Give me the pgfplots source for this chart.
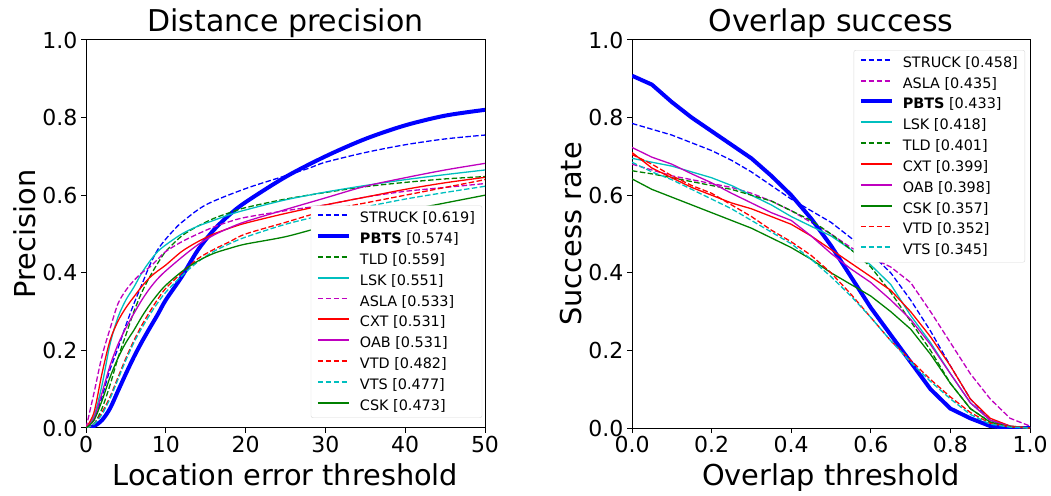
\documentclass[border=0pt]{standalone}
\usepackage{fontspec}
\setmainfont{DejaVu Sans}
\usepackage{pgfplots}
\pgfplotsset{compat=1.18}

\definecolor{mplb}{rgb}{0,0,1}
\definecolor{mplg}{rgb}{0,0.5,0}
\definecolor{mplc}{rgb}{0,0.75,0.75}
\definecolor{mplm}{rgb}{0.75,0,0.75}
\definecolor{mplr}{rgb}{1,0,0}

\pgfplotsset{
  thin trk/.style={line width=1.3pt, legend image post style={line width=1.8pt}},
  dsh/.style={dash pattern=on 5.5pt off 2.4pt},
  panel/.style={
    scale only axis, width=399pt, height=388pt,
    axis line style={line width=1pt},
    tick align=outside, xtick pos=bottom, ytick pos=left,
    major tick length=5pt, tick style={black, line width=1pt},
    ymin=0, ymax=1, ytick={0,0.2,0.4,0.6,0.8,1.0},
    yticklabel style={/pgf/number format/.cd, fixed, fixed zerofill, precision=1},
    /pgf/number format/assume math mode=true,
    tick label style={font=\fontsize{22}{22}\selectfont},
    label style={font=\fontsize{28.8}{28.8}\selectfont},
    xlabel style={yshift=-4pt},
    title style={font=\fontsize{30}{30}\selectfont, yshift=-7pt},
    legend cell align=left,
    legend style={font=\fontsize{14.4}{14.4}\selectfont, draw=black!15, rounded corners=2pt,
      row sep=4.4pt, column sep=7pt, inner xsep=5pt, inner ysep=4pt},
    legend image code/.code={%
      \colorlet{legcol}{pgfstrokecolor}%
      \draw[draw=legcol, #1, line cap=butt] (0pt,0.5ex) -- (31pt,0.5ex);},
  }
}

\begin{document}
\begin{tikzpicture}
\path[use as bounding box] (0,0) rectangle (1051pt,495pt);

% ---------------- distance precision ----------------
\begin{axis}[panel, at={(86pt,67pt)}, anchor=south west,
  xmin=0, xmax=50, xtick={0,10,20,30,40,50},
  title={Distance precision}, xlabel={Location error threshold}, ylabel={Precision},
  legend style={at={(0.993,0.026)}, anchor=south east}]
\addplot[draw=mplb, thin trk, dsh, smooth] coordinates {
 (0,0) (1,0.02) (2,0.08) (3,0.15) (4,0.205) (5,0.265) (6,0.32) (7,0.37) (8,0.42) (9,0.46) (10,0.487)
 (11,0.51) (12,0.53) (15,0.575) (20,0.617) (25,0.65) (28,0.67) (30,0.685) (35,0.71) (40,0.73) (45,0.745) (50,0.755)};
\addlegendentry{STRUCK [0.619]}
\addplot[draw=mplb, line width=4pt, smooth] coordinates {
 (0,0) (1,0.005) (2,0.02) (3,0.05) (4,0.095) (5,0.14) (6,0.183) (7,0.222) (8,0.258) (9,0.293) (10,0.33)
 (12,0.39) (14,0.458) (16,0.51) (18,0.55) (20,0.582) (25,0.647) (30,0.7) (35,0.745) (40,0.78) (45,0.805) (50,0.82)};
\addlegendentry{\textbf{PBTS} [0.574]}
\addplot[draw=mplg, thin trk, dsh, smooth] coordinates {
 (0,0) (1,0.01) (2,0.05) (3,0.11) (4,0.18) (5,0.24) (6,0.3) (7,0.35) (8,0.39) (9,0.425) (10,0.455)
 (12,0.495) (14,0.52) (16,0.54) (18,0.555) (20,0.568) (25,0.59) (30,0.607) (35,0.622) (40,0.633) (45,0.642) (50,0.648)};
\addlegendentry{TLD [0.559]}
\addplot[draw=mplc, thin trk, smooth] coordinates {
 (0,0) (1,0.03) (2,0.11) (3,0.215) (4,0.285) (5,0.33) (6,0.363) (7,0.4) (8,0.43) (9,0.455) (10,0.472)
 (12,0.5) (14,0.52) (16,0.535) (18,0.55) (20,0.562) (25,0.588) (30,0.608) (35,0.625) (40,0.64) (45,0.653) (50,0.665)};
\addlegendentry{LSK [0.551]}
\addplot[draw=mplm, thin trk, dsh, smooth] coordinates {
 (0,0) (1,0.09) (2,0.185) (3,0.255) (4,0.32) (5,0.355) (6,0.38) (7,0.4) (8,0.415) (9,0.435) (10,0.455)
 (12,0.48) (14,0.5) (16,0.518) (18,0.532) (20,0.543) (25,0.56) (30,0.575) (35,0.595) (40,0.61) (45,0.62) (50,0.63)};
\addlegendentry{ASLA [0.533]}
\addplot[draw=mplr, thin trk, smooth] coordinates {
 (0,0) (1,0.04) (2,0.14) (3,0.225) (4,0.275) (5,0.31) (6,0.338) (7,0.365) (8,0.388) (9,0.405) (10,0.42)
 (12,0.455) (14,0.48) (16,0.5) (18,0.515) (20,0.528) (25,0.553) (30,0.575) (35,0.595) (40,0.615) (45,0.632) (50,0.646)};
\addlegendentry{CXT [0.531]}
\addplot[draw=mplm, thin trk, smooth] coordinates {
 (0,0) (1,0.025) (2,0.09) (3,0.16) (4,0.215) (5,0.258) (6,0.295) (7,0.33) (8,0.36) (9,0.385) (10,0.405)
 (12,0.44) (14,0.472) (16,0.497) (18,0.516) (20,0.532) (25,0.563) (30,0.593) (35,0.623) (40,0.645) (45,0.665) (50,0.682)};
\addlegendentry{OAB [0.531]}
\addplot[draw=mplr, thin trk, dsh, smooth] coordinates {
 (0,0) (1,0.01) (2,0.04) (3,0.08) (4,0.13) (5,0.18) (6,0.225) (7,0.265) (8,0.3) (9,0.332) (10,0.36)
 (12,0.4) (14,0.436) (16,0.46) (18,0.48) (20,0.5) (25,0.53) (30,0.56) (35,0.58) (40,0.6) (45,0.62) (50,0.64)};
\addlegendentry{VTD [0.482]}
\addplot[draw=mplc, thin trk, dsh, smooth] coordinates {
 (0,0) (1,0.01) (2,0.035) (3,0.075) (4,0.125) (5,0.175) (6,0.22) (7,0.258) (8,0.292) (9,0.323) (10,0.35)
 (12,0.392) (14,0.428) (16,0.455) (18,0.475) (20,0.492) (25,0.525) (30,0.55) (35,0.57) (40,0.59) (45,0.607) (50,0.623)};
\addlegendentry{VTS [0.477]}
\addplot[draw=mplg, thin trk, smooth] coordinates {
 (0,0) (1,0.02) (2,0.07) (3,0.13) (4,0.18) (5,0.22) (6,0.252) (7,0.287) (8,0.318) (9,0.345) (10,0.368)
 (12,0.403) (14,0.43) (16,0.45) (18,0.463) (20,0.474) (25,0.493) (30,0.52) (35,0.54) (40,0.56) (45,0.58) (50,0.6)};
\addlegendentry{CSK [0.473]}
\end{axis}

% ---------------- overlap success ----------------
\begin{axis}[panel, width=398pt, at={(632pt,67pt)}, anchor=south west,
  xmin=0, xmax=1, xtick={0,0.2,0.4,0.6,0.8,1.0},
  xticklabel style={/pgf/number format/.cd, fixed, fixed zerofill, precision=1},
  title={Overlap success}, xlabel={Overlap threshold}, ylabel={Success rate},
  legend style={at={(0.9875,0.974)}, anchor=north east}]
\addplot[draw=mplb, thin trk, dsh] coordinates {
 (0,0.785) (0.05,0.77) (0.1,0.755) (0.15,0.735) (0.2,0.715) (0.25,0.69) (0.3,0.66) (0.35,0.625) (0.4,0.59) (0.45,0.56)
 (0.5,0.53) (0.55,0.49) (0.6,0.45) (0.65,0.4) (0.7,0.33) (0.75,0.25) (0.8,0.16) (0.85,0.075) (0.9,0.02) (0.95,0.003) (1,0)};
\addlegendentry{STRUCK [0.458]}
\addplot[draw=mplm, thin trk, dsh] coordinates {
 (0,0.68) (0.05,0.665) (0.1,0.65) (0.15,0.64) (0.2,0.63) (0.25,0.62) (0.3,0.605) (0.35,0.585) (0.4,0.56) (0.45,0.53)
 (0.5,0.5) (0.55,0.465) (0.6,0.44) (0.65,0.415) (0.7,0.375) (0.75,0.3) (0.8,0.22) (0.85,0.14) (0.9,0.075) (0.95,0.025) (1,0.005)};
\addlegendentry{ASLA [0.435]}
\addplot[draw=mplb, line width=4pt] coordinates {
 (0,0.908) (0.05,0.885) (0.1,0.84) (0.15,0.8) (0.2,0.765) (0.25,0.73) (0.3,0.695) (0.35,0.65) (0.4,0.6) (0.45,0.54)
 (0.5,0.47) (0.55,0.39) (0.6,0.31) (0.65,0.24) (0.7,0.17) (0.75,0.1) (0.8,0.05) (0.85,0.025) (0.9,0.005) (0.95,0) (1,0)};
\addlegendentry{\textbf{PBTS} [0.433]}
\addplot[draw=mplc, thin trk] coordinates {
 (0,0.695) (0.05,0.685) (0.1,0.675) (0.15,0.66) (0.2,0.645) (0.25,0.625) (0.3,0.6) (0.35,0.575) (0.4,0.545) (0.45,0.52)
 (0.5,0.495) (0.55,0.46) (0.6,0.42) (0.65,0.37) (0.7,0.29) (0.75,0.22) (0.8,0.14) (0.85,0.065) (0.9,0.02) (0.95,0.005) (1,0)};
\addlegendentry{LSK [0.418]}
\addplot[draw=mplg, thin trk, dsh] coordinates {
 (0,0.663) (0.05,0.655) (0.1,0.645) (0.15,0.635) (0.2,0.625) (0.25,0.615) (0.3,0.6) (0.35,0.585) (0.4,0.56) (0.45,0.535)
 (0.5,0.5) (0.55,0.46) (0.6,0.415) (0.65,0.35) (0.7,0.275) (0.75,0.2) (0.8,0.115) (0.85,0.05) (0.9,0.015) (0.95,0.003) (1,0)};
\addlegendentry{TLD [0.401]}
\addplot[draw=mplr, thin trk] coordinates {
 (0,0.71) (0.05,0.67) (0.1,0.645) (0.15,0.62) (0.2,0.6) (0.25,0.58) (0.3,0.565) (0.35,0.545) (0.4,0.525) (0.45,0.495)
 (0.5,0.46) (0.55,0.425) (0.6,0.39) (0.65,0.355) (0.7,0.3) (0.75,0.235) (0.8,0.16) (0.85,0.075) (0.9,0.025) (0.95,0.005) (1,0)};
\addlegendentry{CXT [0.399]}
\addplot[draw=mplm, thin trk] coordinates {
 (0,0.723) (0.05,0.698) (0.1,0.68) (0.15,0.655) (0.2,0.632) (0.25,0.605) (0.3,0.58) (0.35,0.555) (0.4,0.535) (0.45,0.495)
 (0.5,0.45) (0.55,0.41) (0.6,0.375) (0.65,0.33) (0.7,0.28) (0.75,0.215) (0.8,0.14) (0.85,0.065) (0.9,0.02) (0.95,0.004) (1,0)};
\addlegendentry{OAB [0.398]}
\addplot[draw=mplg, thin trk] coordinates {
 (0,0.642) (0.05,0.615) (0.1,0.595) (0.15,0.575) (0.2,0.555) (0.25,0.535) (0.3,0.515) (0.35,0.49) (0.4,0.465) (0.45,0.435)
 (0.5,0.4) (0.55,0.37) (0.6,0.34) (0.65,0.3) (0.7,0.255) (0.75,0.19) (0.8,0.115) (0.85,0.05) (0.9,0.015) (0.95,0.003) (1,0)};
\addlegendentry{CSK [0.357]}
\addplot[draw=mplr, thin trk, dsh] coordinates {
 (0,0.705) (0.05,0.68) (0.1,0.65) (0.15,0.625) (0.2,0.605) (0.25,0.575) (0.3,0.545) (0.35,0.51) (0.4,0.48) (0.45,0.445)
 (0.5,0.4) (0.55,0.345) (0.6,0.285) (0.65,0.225) (0.7,0.175) (0.75,0.125) (0.8,0.08) (0.85,0.04) (0.9,0.012) (0.95,0.003) (1,0)};
\addlegendentry{VTD [0.352]}
\addplot[draw=mplc, thin trk, dsh] coordinates {
 (0,0.685) (0.05,0.66) (0.1,0.64) (0.15,0.615) (0.2,0.59) (0.25,0.565) (0.3,0.535) (0.35,0.505) (0.4,0.475) (0.45,0.435)
 (0.5,0.39) (0.55,0.34) (0.6,0.285) (0.65,0.225) (0.7,0.17) (0.75,0.12) (0.8,0.075) (0.85,0.035) (0.9,0.01) (0.95,0.002) (1,0)};
\addlegendentry{VTS [0.345]}
\end{axis}
\end{tikzpicture}
\end{document}
